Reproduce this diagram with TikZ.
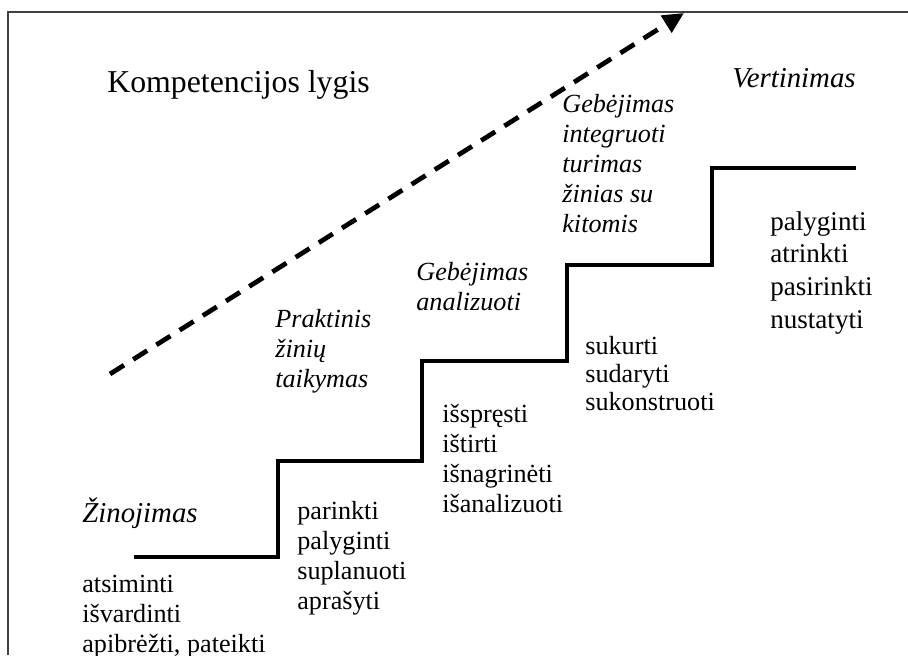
\documentclass[tikz,border=0pt]{standalone}
\usepackage{fontspec}
\setmainfont{Liberation Serif}
\usetikzlibrary{arrows.meta}

\tikzset{
  lbl/.style={anchor=base west,inner sep=0pt,align=left,font=\fontsize{14.9pt}{17pt}\selectfont},
  lvl/.style={lbl,font=\fontsize{14.9pt}{17pt}\selectfont\itshape},
  biglvl/.style={lbl,font=\fontsize{16.4pt}{18pt}\selectfont\itshape},
}

\begin{document}
\begin{tikzpicture}[x=0.02cm,y=-0.02cm]
\useasboundingbox (0,0) rectangle (908,655);
\draw [black!75,line width=0.6pt] (8,655) -- (8,12) -- (908,12);
\node (title) at (107,93) [lbl,font=\fontsize{18.1pt}{20pt}\selectfont] {Kompetencijos lygis};
\node (lvl1) at (82,522)  [biglvl] {Žinojimas};
\node (lvl2) at (275,387) [lvl] {Praktinis\\žinių\\taikymas};
\node (lvl3) at (416,310) [lvl] {Gebėjimas\\analizuoti};
\node (lvl4) at (562,232) [lvl] {Gebėjimas\\integruoti\\turimas\\žinias su\\kitomis};
\node (lvl5) at (732,88)  [biglvl] {Vertinimas};
\node (act1) at (82,652)  [lbl] {atsiminti\\išvardinti\\apibrėžti, pateikti};
\node (act2) at (297,609) [lbl] {parinkti\\palyginti\\suplanuoti\\aprašyti};
\node (act3) at (442,512) [lbl] {išspręsti\\ištirti\\išnagrinėti\\išanalizuoti};
\node (act4) at (585,410) [lbl,font=\fontsize{14.9pt}{15.9pt}\selectfont] {sukurti\\sudaryti\\sukonstruoti};
\node (act5) at (770,328) [lbl,font=\fontsize{15.4pt}{18.5pt}\selectfont] {palyginti\\atrinkti\\pasirinkti\\nustatyti};
\draw [line width=1.9pt] (134,557) -- (278,557) -- (278,461) -- (422,461) -- (422,361)
  -- (567,361) -- (567,265) -- (712,265) -- (712,168) -- (856,168);
\coordinate (low)  at (110,374);
\coordinate (high) at (684,13);
\draw [line width=2.7pt,dash pattern=on 9.4pt off 6.2pt,-{Triangle[length=12pt,width=11pt]}] (low) -- (high);
\end{tikzpicture}
\end{document}
